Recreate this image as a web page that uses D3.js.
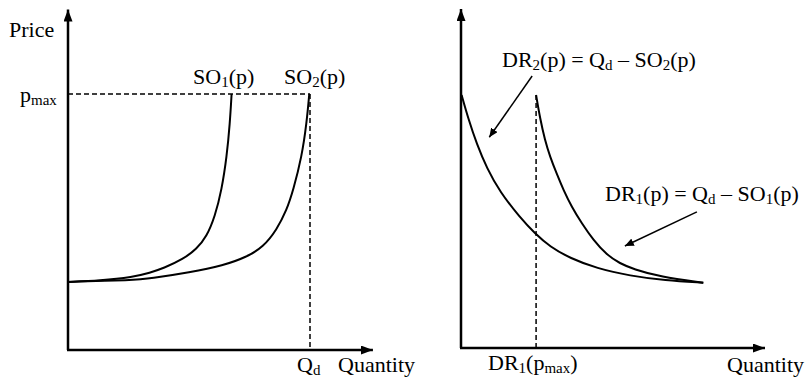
<!DOCTYPE html>
<html>
<head>
<meta charset="utf-8">
<script src="https://cdn.jsdelivr.net/npm/d3@7"></script>
<style>
body{margin:0;background:#fff}
</style>
</head>
<body>
<svg id="chart" width="808" height="379"></svg>
<script>
// left panel: supply offers, quantity vs price (Qd = 100, pmax = 100)
var so1 = [[0,26.6],[13.2,27.1],[26.9,28.5],[33.9,30.2],[39.4,31.9],[47.6,35.5],[53.2,39.5],[57.3,44.3],[60.7,52.1],[63.5,62.5],[65.6,75.5],[66.9,88.6],[67.6,100]];
var so2 = [[0,26.6],[26.9,27.3],[33.9,27.9],[50.4,30.3],[64.2,33.0],[73.8,36.3],[80.7,40.3],[86.2,46.9],[90.4,54.7],[93.1,62.5],[96.6,75.5],[98.6,88.6],[99.7,100]];
var qd = 100, pmax = 100;

// right panel: residual demands
var dr1 = [[0.2,100],[2.4,90.6],[5.2,80.6],[8.5,71.1],[12.8,61.7],[19.4,51.6],[24.3,45.3],[29.3,40.0],[35.9,35.5],[44.6,31.5],[55.6,28.5],[67.1,26.7],[79.7,25.8]];
var dr2 = [[24.7,100],[26.0,90.8],[27.6,82.2],[29.3,75.6],[31.5,68.8],[33.7,62.5],[36.4,55.8],[39.7,49.3],[43.5,42.7],[47.9,36.8],[52.3,33.4],[56.7,31.2],[65.5,28.1],[79.7,25.8]];
var dr1AtPmax = 24.7;

// annotation arrows [from, to]
var dr2Arrow = [[23.4,107.5],[9.3,83.3]];
var dr1Arrow = [[77.6,53.8],[53.9,40.3]];

var svg = d3.select('#chart');
var font = '"Liberation Serif","DejaVu Serif","Times New Roman",serif';

var defs = svg.append('defs');
function addHead(id, len, wid){
	defs.append('marker').attr('id',id).attr('markerUnits','userSpaceOnUse')
		.attr('viewBox','0 0 '+len+' '+wid).attr('refX',len).attr('refY',wid/2)
		.attr('markerWidth',len).attr('markerHeight',wid).attr('orient','auto')
		.append('path').attr('d','M0,0L'+len+','+(wid/2)+'L0,'+wid+'Z').attr('fill','#000');
}
addHead('axisHead',12,9);
addHead('noteHead',9,8);

// scales
var xL = d3.scaleLinear().domain([0,100]).range([68,310]);
var yL = d3.scaleLinear().domain([0,100]).range([350,94]);
var xR = d3.scaleLinear().domain([0,100]).range([461,765]);
var yR = d3.scaleLinear().domain([0,100]).range([348,95]);

function axes(x, y, xmax, ymax){
	svg.append('line').attr('x1',x(0)).attr('y1',y(0)).attr('x2',x(0)).attr('y2',y(ymax))
		.attr('stroke','#000').attr('stroke-width',2.5).attr('marker-end','url(#axisHead)');
	svg.append('line').attr('x1',x(0)-1).attr('y1',y(0)).attr('x2',x(xmax)).attr('y2',y(0))
		.attr('stroke','#000').attr('stroke-width',2.5).attr('marker-end','url(#axisHead)');
}
axes(xL, yL, 126, 133);
axes(xR, yR, 100, 134);

function dashed(x1,y1,x2,y2){
	svg.append('line').attr('x1',x1).attr('y1',y1).attr('x2',x2).attr('y2',y2)
		.attr('stroke','#000').attr('stroke-width',1.5).attr('stroke-dasharray','5,3');
}
dashed(xL(0), yL(pmax), xL(qd), yL(pmax));
dashed(xL(qd), yL(pmax), xL(qd), yL(0));
dashed(xR(dr1AtPmax), yR(pmax), xR(dr1AtPmax), yR(0));

function curve(data, x, y){
	var line = d3.line().x(function(d){ return x(d[0]);}).y(function(d){ return y(d[1]);}).curve(d3.curveBasis);
	svg.append('path').datum(data).attr('d',line).attr('fill','none').attr('stroke','#000').attr('stroke-width',2);
}
curve(so1, xL, yL);
curve(so2, xL, yL);
curve(dr1, xR, yR);
curve(dr2, xR, yR);

[dr2Arrow, dr1Arrow].forEach(function(a){
	svg.append('line').attr('x1',xR(a[0][0])).attr('y1',yR(a[0][1])).attr('x2',xR(a[1][0])).attr('y2',yR(a[1][1]))
		.attr('stroke','#000').attr('stroke-width',1.5).attr('marker-end','url(#noteHead)');
});

// labels: parts are [text, isSub]
function label(x, y, parts){
	var t = svg.append('text').attr('x',x).attr('y',y)
		.attr('font-family',font).attr('font-size',22).attr('fill','#000');
	var prevSub = false;
	parts.forEach(function(p){
		var s = t.append('tspan').text(p[0]);
		if(p[1]) s.attr('font-size',15).attr('dy',3);
		else s.attr('dy', prevSub ? -3 : 0);
		prevSub = !!p[1];
	});
	return t;
}

label(9, 37, [['Price']]);
label(20, 102, [['p'],['max',1]]);
label(193, 84, [['SO'],['1',1],['(p)']]);
label(284, 84, [['SO'],['2',1],['(p)']]);
label(297, 372, [['Q'],['d',1]]);
label(338, 372, [['Quantity']]);

label(502, 67, [['DR'],['2',1],['(p) = Q'],['d',1],[' – SO'],['2',1],['(p)']]);
label(605, 201, [['DR'],['1',1],['(p) = Q'],['d',1],[' – SO'],['1',1],['(p)']]);
label(488, 370, [['DR'],['1',1],['(p'],['max',1],[')']]);
label(727, 372, [['Quantity']]);
</script>
</body>
</html>
